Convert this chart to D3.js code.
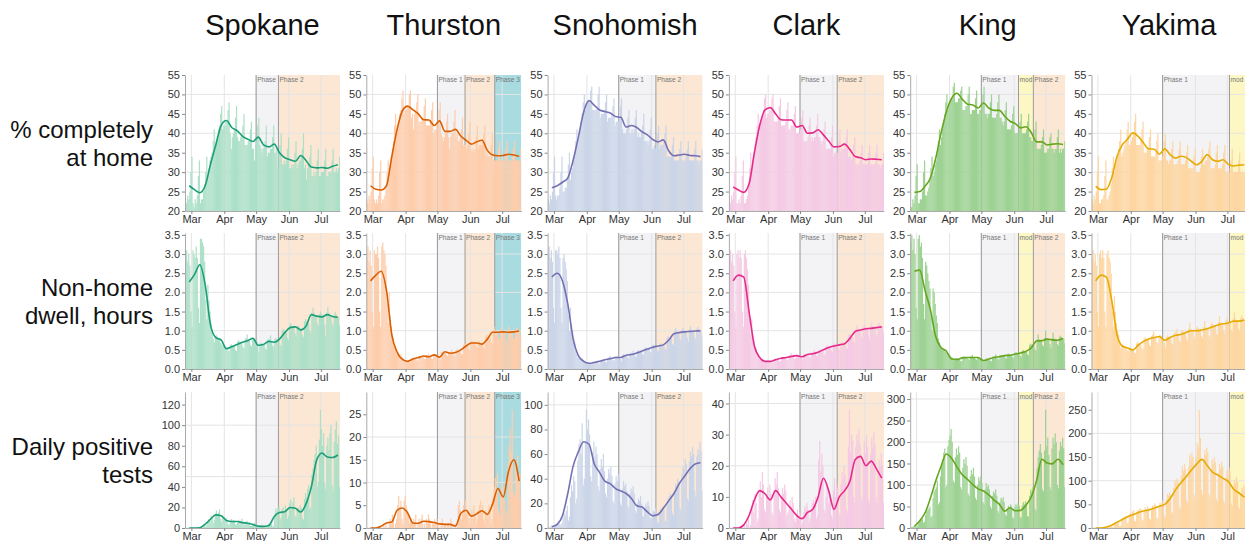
<!DOCTYPE html>
<html>
<head>
<meta charset="utf-8">
<script src="https://cdn.jsdelivr.net/npm/d3@7"></script>
<style>
  body { margin: 0; background: #fff; }
  text { font-family: "Liberation Sans", Arial, sans-serif; }
</style>
</head>
<body>
<div id="chart"></div>
<script>
const PANEL_W = 155;
const PANEL_H = 136;
const IMG_W = 1245;
const colLeft = [185, 366.3, 547.6, 728.9, 910.2, 1091.5];
const rowTop = [75, 233, 392];

const dayStart = new Date(2020, 1, 24);   // first bar, Mon Feb 24
const dayEnd = new Date(2020, 6, 19);
const avgFirstDay = 4, avgStep = 5;       // smoothed line sampled every 5 days from Feb 28

const counties = ['Spokane', 'Thurston', 'Snohomish', 'Clark', 'King', 'Yakima'];
const lineColors = ['#1b9e77', '#d95f02', '#7570b3', '#e7298a', '#66a61e', '#e6ab02'];
const barColors = ['#ade0c8', '#fdcdac', '#cbd5e8', '#f4cae4', '#9dd293', '#fdd6a2'];
const rowLabels = [['% completely', 'at home'], ['Non-home', 'dwell, hours'], ['Daily positive', 'tests']];
const testTickStep = [20, 5, 20, 10, 50, 50];

// phases: [label, start date]
const phasesSpokane = [['Phase 1', '2020-05-01'], ['Phase 2', '2020-05-22']];
const phasesThurston = [['Phase 1', '2020-05-01'], ['Phase 2', '2020-05-27'], ['Phase 3', '2020-06-24']];
const phasesSnohomish = [['Phase 1', '2020-05-01'], ['Phase 2', '2020-06-05']];
const phasesClark = [['Phase 1', '2020-05-01'], ['Phase 2', '2020-06-05']];
const phasesKing = [['Phase 1', '2020-05-01'], ['mod 1', '2020-06-05'], ['Phase 2', '2020-06-19']];
const phasesYakima = [['Phase 1', '2020-05-01'], ['mod 1', '2020-07-03']];
const phaseFill = { 'Phase 1': '#f3f3f5', 'Phase 2': '#fbe7d3', 'Phase 3': '#a8dce0', 'mod 1': '#fdf7c4' };

// % completely at home, daily
const homeSpokane = [23,22,24,23,25,30,34, 22,21,23,22,24,29,33, 22,23,23,25,27,30,34, 29,31,33,34,35,38,41,
  36,38,39,41,42,45,47, 41,42,42,43,43,46,48, 40,36,39,40,41,44,47, 39,38,38,39,40,42,45, 37,37,37,38,38,41,43,
  36,36,33,37,38,42,44, 37,36,35,36,37,38,42, 34,35,35,36,36,39,42, 35,35,36,31,35,37,40, 32,32,33,32,33,36,39,
  31,31,32,31,32,35,38, 31,32,33,33,34,36,40, 31,32,28,31,32,34,37, 29,29,30,29,30,33,36, 29,29,30,30,30,33,36,
  29,29,30,30,30,33,36, 30,30,31,30,31,34];
const homeThurston = [23,22,24,23,25,31,34, 23,22,23,22,24,30,33, 22,23,23,24,26,30,33, 30,32,34,36,38,42,45,
  40,42,43,45,46,49,51, 45,46,46,47,47,50,51, 44,45,41,45,46,48,50, 43,43,43,44,44,47,49, 42,42,42,42,43,46,48,
  40,41,41,42,43,46,48, 40,39,38,39,40,43,45, 39,36,39,40,40,43,46, 39,40,38,38,39,41,44, 37,37,37,36,37,40,43,
  36,35,36,35,36,39,42, 36,37,37,37,38,40,42, 34,35,34,34,34,37,40, 33,33,33,33,33,36,38, 33,33,33,33,34,36,38,
  33,33,33,33,34,36,38, 33,33,33,33,33,36];
const homeSnohomish = [23,22,24,23,25,30,34, 24,23,24,24,26,30,34, 25,25,26,26,28,32,35, 28,30,31,33,35,38,41,
  37,39,41,43,45,48,50, 46,47,48,48,48,51,52, 46,46,46,46,47,50,52, 44,45,45,45,46,48,50, 43,44,44,44,45,47,49,
  42,43,43,43,44,47,49, 41,40,40,40,41,44,46, 40,40,41,40,41,44,46, 39,40,39,39,40,42,45, 38,38,38,37,38,41,44,
  36,36,37,36,37,40,42, 36,37,37,37,38,40,42, 34,34,34,34,34,37,39, 33,33,33,33,33,36,38, 33,33,33,33,34,36,38,
  33,33,33,33,33,36,38, 33,33,32,33,33,36];
const homeClark = [23,22,24,23,25,30,34, 22,22,23,22,24,29,33, 22,22,23,24,26,31,35, 31,33,35,37,39,42,45,
  40,42,43,45,46,49,50, 44,45,45,46,46,49,50, 43,43,43,43,44,47,49, 42,42,42,42,43,46,48, 41,41,42,42,42,45,47,
  40,40,40,40,41,44,46, 38,38,38,38,39,42,44, 38,39,38,39,39,42,45, 39,39,38,37,38,41,43, 36,36,36,36,36,39,42,
  34,35,35,34,35,38,41, 35,36,36,36,37,39,41, 34,34,34,33,34,37,39, 32,32,32,32,33,35,37, 32,32,32,32,32,35,37,
  32,32,32,32,32,35,37, 32,32,31,32,32,35];
const homeKing = [21,21,23,22,24,29,32, 22,22,23,23,25,30,33, 24,24,25,26,28,31,34, 29,30,32,33,35,38,41,
  37,39,41,43,45,48,50, 46,47,48,49,49,52,53, 48,48,48,49,49,51,52, 46,46,46,47,47,50,52, 45,45,46,46,46,49,51,
  45,45,46,46,47,50,52, 45,45,44,45,45,48,50, 44,44,44,44,45,48,50, 44,44,43,42,43,46,48, 41,41,41,41,42,45,47,
  40,40,40,40,41,43,45, 40,40,40,40,41,43,45, 39,39,38,38,38,41,43, 36,36,36,36,37,39,41, 35,35,35,36,36,39,40,
  36,36,35,36,36,39,41, 35,36,35,36,36,38];
const homeYakima = [23,22,24,23,25,30,34, 22,22,23,23,24,29,33, 23,23,24,25,27,31,34, 30,32,33,34,36,38,41,
  34,35,36,37,38,41,43, 37,37,38,39,40,43,45, 37,37,37,37,38,41,43, 35,35,35,36,36,39,41, 34,34,34,34,35,38,40,
  33,33,33,34,35,38,40, 33,33,32,33,33,36,38, 32,32,32,32,33,36,38, 32,32,32,32,33,35,37, 31,31,31,31,31,34,36,
  30,30,30,30,31,34,36, 32,32,33,33,34,36,38, 31,31,31,31,32,35,37, 31,31,31,31,32,35,37, 30,30,30,30,31,33,36,
  30,30,30,30,30,33,35, 30,30,30,30,30,33];

// % completely at home, smoothed (every 5 days)
const homeSpokaneAvg = [26.5,25.5,24.7,26.5,32,37,42,43.3,41.5,40.7,39.3,38.5,37.9,39,37,36.5,37.2,35,33.7,33.2,32.8,34.3,33,31.3,31.1,31.2,31,31.5,31.9];
const homeThurstonAvg = [26.5,25.6,25.4,26.5,34,41,45.8,47,46,45,43.5,43.4,42,43.2,40.5,40.5,41,39.3,38.2,37.2,37.8,38.2,35.6,34.4,34.2,34.3,34.6,34.4,34];
const homeSnohomishAvg = [26,26.5,27.4,28.5,33,39,45.5,48.4,47.2,46,45.6,45.2,44.3,44.1,41.6,42,41.5,40.4,39.6,38.4,37.8,38.3,35.5,34.2,34.4,34.6,34.3,34.2,34];
const homeClarkAvg = [26.2,25.4,24.8,27,35,42,46,46.6,45,43.5,43.4,43.4,41.6,42,40,40.1,40.9,39.6,38,36.5,36.6,37.2,35.8,34,33.7,33.2,33.4,33.3,33.2];
const homeKingAvg = [24.8,25,26.4,28.5,33.5,40,45.5,49,50.3,48.8,47.5,47.3,46.5,47.8,46.5,45.9,45.9,44.4,43.1,42.5,41.4,41.7,40.2,37.8,37.8,37,37.2,37.3,37.1];
const homeYakimaAvg = [26.4,25.5,25.6,28.5,34,37,38.5,40.1,39.2,37.5,36,35.9,34.6,36,34.5,33.6,34.1,33.8,32.8,31.9,32.8,34.5,33.2,32.8,33.2,32,31.6,31.8,31.9];

// non-home dwell hours, daily
const dwellSpokane = [2.9,3.1,2.8,3.0,2.7,1.5,1.1, 3.1,3.0,2.9,3.2,2.9,1.6,1.2, 3.4,3.4,3.3,3.2,2.8,1.8,1.3,
  2.2,1.8,1.5,1.2,1.0,0.8,0.7, 0.84,0.88,0.84,0.8,0.8,0.68,0.64, 0.6,0.63,0.6,0.57,0.57,0.48,0.46, 0.62,0.65,0.62,0.59,0.59,0.5,0.47,
  0.71,0.75,0.71,0.68,0.68,0.58,0.54, 0.78,0.81,0.9,0.74,0.74,0.63,0.59, 0.76,0.79,0.76,0.72,0.72,0.61,0.45, 0.66,0.69,0.66,0.63,0.63,0.54,0.5,
  0.76,0.79,0.76,0.88,0.72,0.61,0.58, 0.78,0.81,0.78,0.74,0.74,0.63,0.59, 1.0,1.05,1.0,0.95,0.95,0.81,0.76, 1.14,1.2,1.14,1.09,1.09,0.93,0.87,
  1.09,1.14,1.09,1.04,1.04,0.88,0.83, 1.24,1.3,1.24,1.18,1.18,1.0,0.94, 1.47,1.6,1.47,1.4,1.4,1.19,1.12, 1.43,1.5,1.43,1.36,1.36,1.16,0.85,
  1.47,1.62,1.47,1.4,1.4,1.19,1.12, 1.42,1.49,1.42,1.35,1.35,1.15];
const dwellThurston = [2.9,3.2,2.8,3.1,2.7,1.5,1.1, 3.1,3.0,3.0,3.2,2.9,1.5,1.1, 3.2,3.3,3.1,3.0,2.7,1.7,1.2,
  2.0,1.4,1.1,0.9,0.8,0.6,0.5, 0.4,0.42,0.4,0.38,0.38,0.32,0.3, 0.22,0.23,0.22,0.21,0.21,0.18,0.17, 0.28,0.3,0.28,0.27,0.27,0.23,0.22,
  0.34,0.35,0.34,0.32,0.32,0.27,0.26, 0.34,0.35,0.4,0.32,0.32,0.27,0.26, 0.37,0.39,0.37,0.35,0.35,0.3,0.22, 0.44,0.46,0.44,0.42,0.42,0.36,0.34,
  0.43,0.45,0.43,0.5,0.41,0.35,0.33, 0.49,0.52,0.49,0.47,0.47,0.4,0.38, 0.63,0.66,0.63,0.6,0.6,0.51,0.48, 0.71,0.75,0.71,0.68,0.68,0.58,0.54,
  0.69,0.73,0.69,0.66,0.66,0.56,0.53, 0.86,0.9,0.86,0.82,0.82,0.7,0.66, 1.01,1.1,1.01,0.96,0.96,0.82,0.77, 1.02,1.07,1.02,0.97,0.97,0.82,0.7,
  1.02,1.12,1.02,0.97,0.97,0.82,0.78, 1.04,1.09,1.04,0.99,0.99,0.84];
const dwellSnohomish = [3.0,3.2,2.9,3.1,2.8,1.6,1.2, 3.1,3.1,3.0,3.2,2.9,1.6,1.2, 2.9,3.0,2.8,2.6,2.3,1.4,1.0,
  1.6,1.2,1.0,0.8,0.7,0.5,0.4, 0.29,0.31,0.29,0.28,0.28,0.24,0.22, 0.17,0.18,0.17,0.16,0.16,0.14,0.13, 0.19,0.2,0.19,0.18,0.18,0.15,0.14,
  0.23,0.24,0.23,0.22,0.22,0.19,0.18, 0.28,0.3,0.34,0.27,0.27,0.23,0.22, 0.32,0.33,0.32,0.3,0.3,0.26,0.2, 0.37,0.39,0.37,0.35,0.35,0.3,0.28,
  0.41,0.43,0.41,0.48,0.39,0.33,0.31, 0.47,0.5,0.47,0.45,0.45,0.38,0.36, 0.55,0.57,0.55,0.52,0.52,0.44,0.42, 0.61,0.64,0.61,0.58,0.58,0.49,0.46,
  0.65,0.68,0.65,0.62,0.62,0.53,0.5, 0.82,0.86,0.82,0.78,0.78,0.66,0.62, 0.99,1.08,0.99,0.94,0.94,0.8,0.75, 1.02,1.07,1.02,0.97,0.97,0.82,0.7,
  1.03,1.12,1.03,0.98,0.98,0.83,0.78, 1.05,1.1,1.05,1.0,1.0,0.85];
const dwellClark = [2.9,3.1,2.8,3.0,2.7,1.5,1.1, 3.0,3.1,2.9,3.1,2.9,1.5,1.1, 3.0,3.1,2.9,2.6,2.2,1.3,0.9,
  1.3,0.9,0.75,0.6,0.55,0.4,0.35, 0.27,0.29,0.27,0.26,0.26,0.22,0.21, 0.21,0.22,0.21,0.2,0.2,0.17,0.16, 0.26,0.28,0.26,0.25,0.25,0.21,0.2,
  0.3,0.32,0.3,0.29,0.29,0.25,0.23, 0.35,0.36,0.42,0.33,0.33,0.28,0.26, 0.36,0.37,0.36,0.34,0.34,0.29,0.22, 0.38,0.4,0.38,0.36,0.36,0.31,0.29,
  0.43,0.45,0.43,0.5,0.41,0.35,0.33, 0.49,0.52,0.49,0.47,0.47,0.4,0.38, 0.59,0.62,0.59,0.56,0.56,0.48,0.45, 0.64,0.67,0.64,0.61,0.61,0.52,0.49,
  0.68,0.72,0.68,0.65,0.65,0.55,0.52, 0.87,0.91,0.87,0.83,0.83,0.71,0.66, 1.05,1.14,1.05,1.0,1.0,0.85,0.8, 1.1,1.16,1.1,1.05,1.05,0.89,0.75,
  1.12,1.22,1.12,1.07,1.07,0.91,0.86, 1.16,1.21,1.16,1.1,1.1,0.94];
const dwellKing = [3.3,3.5,3.1,3.4,3.0,1.6,1.3, 3.4,3.5,3.2,3.3,2.9,1.7,1.3, 2.8,2.7,2.5,2.3,2.1,1.4,1.0,
  2.1,2.0,1.7,1.4,1.2,0.8,0.7, 0.55,0.57,0.55,0.52,0.52,0.44,0.42, 0.4,0.38,0.35,0.32,0.3,0.25,0.24, 0.26,0.28,0.26,0.25,0.25,0.21,0.2,
  0.32,0.33,0.32,0.3,0.3,0.26,0.24, 0.32,0.33,0.37,0.3,0.3,0.26,0.24, 0.29,0.31,0.29,0.28,0.28,0.24,0.18, 0.26,0.28,0.26,0.25,0.25,0.21,0.2,
  0.32,0.33,0.32,0.38,0.3,0.26,0.24, 0.36,0.37,0.36,0.34,0.34,0.29,0.27, 0.38,0.4,0.38,0.36,0.36,0.31,0.29, 0.42,0.44,0.42,0.4,0.4,0.34,0.32,
  0.47,0.5,0.47,0.45,0.45,0.38,0.36, 0.63,0.66,0.63,0.6,0.6,0.51,0.48, 0.78,0.9,0.78,0.74,0.74,0.63,0.59, 0.81,1.0,0.81,0.77,0.77,0.65,0.55,
  0.8,0.95,0.8,0.76,0.76,0.65,0.61, 0.83,0.87,0.83,0.79,0.79,0.67];
const dwellYakima = [2.9,3.1,2.8,3.0,2.7,1.5,1.1, 3.0,3.1,2.9,3.1,2.9,1.5,1.1, 3.0,3.1,2.9,2.8,2.5,1.5,1.1,
  1.9,1.5,1.2,1.0,0.9,0.65,0.55, 0.61,0.64,0.61,0.58,0.58,0.49,0.46, 0.54,0.56,0.54,0.51,0.51,0.43,0.41, 0.67,0.7,0.67,0.64,0.64,0.54,0.51,
  0.79,0.83,0.79,0.75,0.75,0.64,0.6, 0.86,0.9,0.98,0.82,0.82,0.7,0.66, 0.85,0.89,0.85,0.81,0.81,0.69,0.55, 0.84,0.88,0.84,0.8,0.8,0.68,0.64,
  0.92,0.97,0.92,1.05,0.88,0.75,0.7, 0.98,1.02,0.98,0.93,0.93,0.79,0.74, 1.05,1.2,1.05,1.0,1.0,0.85,0.8, 1.06,1.11,1.06,1.01,1.01,0.86,0.81,
  1.09,1.25,1.09,1.04,1.04,0.88,0.83, 1.17,1.22,1.17,1.11,1.11,0.94,0.89, 1.22,1.38,1.22,1.16,1.16,0.99,0.93, 1.27,1.33,1.27,1.21,1.21,1.03,0.97,
  1.31,1.48,1.31,1.25,1.25,1.06,1.0, 1.33,1.4,1.33,1.27,1.27,1.08];

// non-home dwell hours, smoothed (every 5 days)
const dwellSpokaneAvg = [2.27,2.47,2.72,2.2,1.15,0.82,0.76,0.53,0.58,0.64,0.7,0.74,0.8,0.62,0.64,0.72,0.7,0.78,0.95,1.08,1.1,1.02,1.12,1.42,1.38,1.36,1.42,1.37,1.35];
const dwellThurstonAvg = [2.3,2.45,2.55,2.05,0.9,0.44,0.25,0.2,0.26,0.3,0.34,0.32,0.37,0.31,0.45,0.41,0.43,0.5,0.6,0.68,0.68,0.65,0.78,0.96,0.96,0.97,0.96,0.97,0.99];
const dwellSnohomishAvg = [2.4,2.5,2.3,1.7,0.8,0.35,0.2,0.15,0.17,0.2,0.24,0.27,0.3,0.3,0.36,0.38,0.42,0.47,0.52,0.57,0.6,0.63,0.75,0.92,0.95,0.97,0.98,0.99,1.0];
const dwellClarkAvg = [2.3,2.45,2.4,1.5,0.6,0.3,0.2,0.2,0.24,0.28,0.3,0.33,0.35,0.32,0.38,0.4,0.44,0.5,0.56,0.6,0.63,0.66,0.8,0.98,1.02,1.05,1.06,1.08,1.1];
const dwellKingAvg = [2.55,2.58,2.05,1.55,0.85,0.56,0.47,0.26,0.25,0.29,0.3,0.3,0.3,0.22,0.26,0.3,0.32,0.35,0.36,0.39,0.42,0.46,0.55,0.73,0.74,0.78,0.76,0.75,0.8];
const dwellYakimaAvg = [2.3,2.45,2.4,1.8,0.9,0.6,0.55,0.5,0.62,0.72,0.78,0.82,0.85,0.75,0.82,0.88,0.9,0.95,1.0,1.0,1.02,1.05,1.1,1.15,1.18,1.2,1.25,1.25,1.28];

// daily positive tests
const testsSpokane = [0,0,0,0,0,0,0, 0,0,0,0,1,0,0, 0,1,0,2,4,1,3, 6,9,7,12,10,5,8, 14,17,13,15,18,9,6,
  12,11,9,10,8,4,3, 7,9,6,8,7,3,4, 5,8,7,6,9,4,3, 6,5,7,4,6,2,2, 3,4,5,2,3,1,1, 2,1,3,2,2,0,1,
  2,4,3,5,4,1,2, 14,19,16,20,21,8,10, 18,20,15,22,17,9,12, 24,28,20,25,30,12,10, 18,20,16,22,19,10,8,
  28,34,30,38,42,18,20, 52,58,66,72,80,40,45, 86,115,96,80,92,44,38, 80,88,76,92,100,42,36, 84,96,104,82,90,40];
const testsThurston = [0,0,0,0,0,0,0, 0,0,0,0,0,0,0, 0,0,1,0,1,0,0, 1,2,1,3,2,0,1, 2,5,7,4,6,2,1,
  6,7,5,4,3,1,2, 2,1,2,1,3,0,1, 2,1,2,3,0,1,0, 2,1,3,2,1,0,1, 1,2,1,2,1,0,0, 1,2,0,1,1,0,1,
  1,0,2,1,0,0,1, 0,1,5,6,4,2,3, 5,4,6,3,4,2,1, 3,4,2,5,3,1,2, 4,5,6,4,5,2,1,
  4,3,2,5,4,1,2, 7,9,11,8,12,4,3, 8,10,7,9,6,3,4, 14,18,22,17,26,8,7, 14,12,16,10,12,6];
const testsSnohomish = [0,1,0,2,1,0,1, 2,3,4,5,3,2,4, 8,12,10,14,18,6,9, 25,35,30,42,38,20,24, 55,68,72,60,85,35,40,
  70,96,80,88,76,42,38, 62,70,58,66,60,34,30, 48,56,50,60,46,28,25, 40,48,44,50,42,22,20, 36,42,38,44,40,20,18, 32,38,34,36,30,18,16,
  28,32,30,34,28,14,12, 20,24,22,26,20,10,9, 16,20,18,22,18,8,7, 12,14,13,16,12,5,4, 12,16,14,18,15,6,5,
  20,24,26,28,24,12,10, 30,36,34,40,38,16,14, 44,50,48,56,52,24,22, 54,62,58,66,60,30,26, 58,64,60,70,62,30];
const testsClark = [0,0,0,0,0,0,0, 0,0,0,0,1,0,0, 1,0,2,1,3,0,1, 6,9,5,11,8,2,3, 12,15,10,18,14,6,5,
  10,13,9,14,11,5,4, 12,16,14,18,13,6,5, 10,13,11,14,12,4,5, 6,9,7,10,8,3,2, 4,6,3,5,4,1,2, 5,7,6,8,6,2,3,
  6,8,9,7,10,3,4, 22,28,18,24,20,6,5, 10,14,8,12,9,4,3, 12,16,10,14,13,5,4, 14,18,16,20,17,6,5,
  26,38,24,30,28,10,8, 26,30,28,32,27,10,9, 22,28,24,30,26,9,8, 24,29,26,31,27,10,8, 18,22,20,24,20,8];
const testsKing = [0,2,3,5,6,3,4, 10,14,18,20,22,12,15, 30,38,42,45,50,25,28, 70,85,90,95,110,55,60, 120,150,160,175,185,95,100,
  190,205,215,230,200,110,105, 165,185,170,190,175,95,90, 140,160,150,165,145,80,75, 120,135,125,140,120,70,65, 100,118,110,120,105,60,55, 90,105,95,100,90,50,45,
  75,85,80,90,75,40,35, 60,70,65,72,60,32,28, 45,52,48,55,50,25,22, 48,55,50,58,52,26,24, 52,60,55,62,58,28,26,
  75,90,85,95,88,45,40, 140,165,180,195,175,90,85, 180,275,190,210,170,95,88, 185,210,195,220,200,100,92, 180,200,190,210,185,95];
const testsYakima = [0,0,0,0,0,0,0, 0,0,0,0,1,0,0, 1,2,3,2,4,1,1, 6,8,9,10,12,4,5, 15,20,22,24,26,10,12,
  25,32,30,35,38,15,14, 32,38,36,42,40,18,16, 36,44,40,46,42,20,18, 40,48,44,52,48,22,20, 46,54,50,58,52,26,22, 60,72,68,76,70,34,30,
  85,100,95,105,98,45,40, 110,130,120,135,125,58,52, 130,155,145,160,150,70,62, 150,180,170,250,190,80,70, 140,165,155,170,160,72,65,
  125,145,135,150,140,62,56, 115,135,125,140,130,58,52, 105,122,112,128,118,52,46, 88,102,95,108,98,44,40, 72,85,80,90,82,36];

// daily positive tests, smoothed (every 5 days)
const testsSpokaneAvg = [0,0,0.3,3.8,8.5,12.8,12,7.3,6.3,6.3,5.2,4.7,3.5,1.8,1.6,2.5,11,15,15.8,20,19.2,15.5,23.5,40,66,73,69,68.5,71];
const testsThurstonAvg = [0,0,0.4,1.1,1.3,3.9,4.4,3.3,1.1,1.05,1.5,1.4,1.2,0.9,0.8,0.8,0.45,3.2,3.9,2.6,3.1,3.8,3.0,5.3,8.7,6.8,12.5,15,10.3];
const testsSnohomishAvg = [1,3,10,28,50,62,70,68,52,45,38,36,32,30,28,24,18,17,13,10,11,16,22,28,36,42,48,52,53];
const testsClarkAvg = [0,0,1,4,9,12,11,9,12,10,8,6,4,3,5,6,10,16,12,6,10,12,15,22,23,20,21.5,19,16];
const testsKingAvg = [4,17,35,69,109,143,172,162,142,124,113,101,91,86,77,65,55,39,47,40,41,53,72,110,160,151,149,160,147];
const testsYakimaAvg = [0,0,2,6,12,18,24,28,33,36,38,42,46,50,62,80,95,108,122,135,145,132,118,112,105,98,82,74,65];

// tables built from the arrays above
const barTable = [
  [homeSpokane, homeThurston, homeSnohomish, homeClark, homeKing, homeYakima],
  [dwellSpokane, dwellThurston, dwellSnohomish, dwellClark, dwellKing, dwellYakima],
  [testsSpokane, testsThurston, testsSnohomish, testsClark, testsKing, testsYakima]
];
const avgTable = [
  [homeSpokaneAvg, homeThurstonAvg, homeSnohomishAvg, homeClarkAvg, homeKingAvg, homeYakimaAvg],
  [dwellSpokaneAvg, dwellThurstonAvg, dwellSnohomishAvg, dwellClarkAvg, dwellKingAvg, dwellYakimaAvg],
  [testsSpokaneAvg, testsThurstonAvg, testsSnohomishAvg, testsClarkAvg, testsKingAvg, testsYakimaAvg]
];
const phaseTable = [phasesSpokane, phasesThurston, phasesSnohomish, phasesClark, phasesKing, phasesYakima];

const parseDate = d3.timeParse('%Y-%m-%d');

const svg = d3.select('#chart').append('svg')
  .attr('width', IMG_W)
  .attr('height', 541);

counties.forEach((name, c) => {
  svg.append('text')
    .attr('x', colLeft[c] + PANEL_W / 2)
    .attr('y', 35)
    .attr('text-anchor', 'middle')
    .attr('font-size', 29)
    .attr('fill', '#111')
    .text(name);
});

rowLabels.forEach((lines, r) => {
  const cy = rowTop[r] + PANEL_H / 2;
  lines.forEach((t, i) => {
    svg.append('text')
      .attr('x', 153)
      .attr('y', cy - 14 + i * 28 + 8.5)
      .attr('text-anchor', 'end')
      .attr('font-size', 24)
      .attr('fill', '#111')
      .text(t);
  });
});

function drawPanel(r, c) {
  const bars = barTable[r][c];
  const avg = avgTable[r][c];
  const phases = phaseTable[c];

  const g = svg.append('g').attr('transform', `translate(${colLeft[c]},${rowTop[r]})`);

  const x = d3.scaleTime().domain([dayStart, dayEnd]).range([0, PANEL_W]);

  let y, tickVals, fmt;
  if (r === 0) {
    y = d3.scaleLinear().domain([20, 55]).range([PANEL_H, 0]);
    tickVals = d3.range(20, 56, 5);
    fmt = d3.format('d');
  } else if (r === 1) {
    y = d3.scaleLinear().domain([0, 3.55]).range([PANEL_H, 0]);
    tickVals = d3.range(0, 3.51, 0.5);
    fmt = d3.format('.1f');
  } else {
    const top = d3.max(bars) * 1.15;
    y = d3.scaleLinear().domain([0, top]).range([PANEL_H, 0]);
    tickVals = d3.range(0, top, testTickStep[c]);
    fmt = d3.format('d');
  }
  const base = y.domain()[0];

  const clipId = `clip-${r}-${c}`;
  g.append('clipPath').attr('id', clipId)
    .append('rect').attr('width', PANEL_W).attr('height', PANEL_H);
  const body = g.append('g').attr('clip-path', `url(#${clipId})`);

  // phase shading
  const spans = phases.map((p, i) => {
    const x0 = x(parseDate(p[1]));
    const x1 = i < phases.length - 1 ? x(parseDate(phases[i + 1][1])) : PANEL_W;
    return { label: p[0], x0, x1 };
  });
  body.selectAll('rect.phase').data(spans).join('rect')
    .attr('class', 'phase')
    .attr('x', d => d.x0)
    .attr('y', 0)
    .attr('width', d => d.x1 - d.x0)
    .attr('height', PANEL_H)
    .attr('fill', d => phaseFill[d.label]);

  // grid
  const months = x.ticks(d3.timeMonth.every(1));
  body.selectAll('line.vgrid').data(months).join('line')
    .attr('x1', d => x(d)).attr('x2', d => x(d))
    .attr('y1', 0).attr('y2', PANEL_H)
    .attr('stroke', '#e4e4e4').attr('stroke-width', 1);
  body.selectAll('line.hgrid').data(y.ticks(3)).join('line')
    .attr('x1', 0).attr('x2', PANEL_W)
    .attr('y1', d => y(d)).attr('y2', d => y(d))
    .attr('stroke', '#e4e4e4').attr('stroke-width', 1);

  // phase borders
  body.selectAll('line.pborder').data(spans).join('line')
    .attr('x1', d => d.x0).attr('x2', d => d.x0)
    .attr('y1', 0).attr('y2', PANEL_H)
    .attr('stroke', '#9a9a9a').attr('stroke-width', 1);

  // daily bars
  const dates = bars.map((v, i) => d3.timeDay.offset(dayStart, i));
  body.selectAll('rect.bar').data(bars).join('rect')
    .attr('x', (d, i) => x(dates[i]))
    .attr('y', d => y(d))
    .attr('width', (d, i) => x(d3.timeDay.offset(dates[i], 1)) - x(dates[i]) + 0.15)
    .attr('height', d => Math.max(0, y(base) - y(d)))
    .attr('fill', barColors[c]);

  // smoothed line
  const pts = avg.map((v, i) => ({ date: d3.timeDay.offset(dayStart, avgFirstDay + i * avgStep), v }));
  body.append('path')
    .datum(pts)
    .attr('fill', 'none')
    .attr('stroke', lineColors[c])
    .attr('stroke-width', 1.6)
    .attr('d', d3.line().x(d => x(d.date)).y(d => y(d.v)).curve(d3.curveMonotoneX));

  // phase labels, shortened so they fit their span (and the page)
  const visibleRight = Math.min(PANEL_W, IMG_W - colLeft[c]);
  spans.forEach(s => {
    const room = Math.min(s.x1, visibleRight) - s.x0 - 1.2;
    const t = g.append('text')
      .attr('x', s.x0 + 1)
      .attr('y', 6.5)
      .attr('font-size', 6.6)
      .attr('fill', '#777')
      .text(s.label);
    let label = s.label;
    while (label.length > 0 && t.node().getComputedTextLength() > room) {
      label = label.slice(0, -1).trimEnd();
      t.text(label);
    }
    if (!label.length) t.remove();
  });

  // axes
  const xAxis = g.append('g')
    .attr('transform', `translate(0,${PANEL_H})`)
    .call(d3.axisBottom(x).ticks(d3.timeMonth.every(1)).tickFormat(d3.timeFormat('%b'))
      .tickSize(3).tickSizeOuter(0).tickPadding(1));
  const yAxis = g.append('g')
    .call(d3.axisLeft(y).tickValues(tickVals).tickFormat(fmt).tickSize(3).tickSizeOuter(0).tickPadding(2));

  [xAxis, yAxis].forEach(a => {
    a.select('.domain').attr('stroke', '#aaa');
    a.selectAll('.tick line').attr('stroke', '#888');
    a.selectAll('.tick text')
      .attr('fill', '#333')
      .attr('font-size', 11)
      .attr('font-family', '"Liberation Sans", Arial, sans-serif');
  });
}

for (let r = 0; r < 3; r++) {
  for (let c = 0; c < counties.length; c++) {
    drawPanel(r, c);
  }
}
</script>
</body>
</html>
